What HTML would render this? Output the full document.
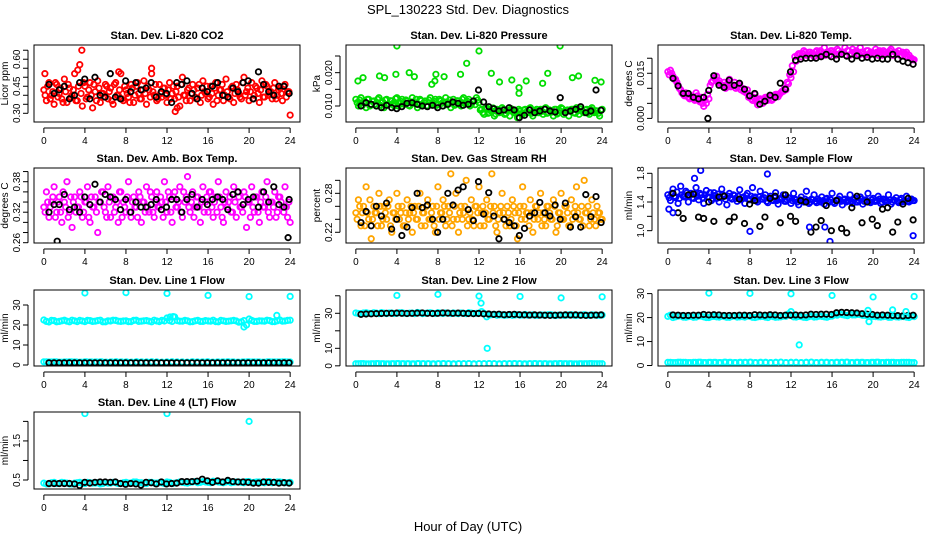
<!DOCTYPE html>
<html><head><meta charset="utf-8">
<style>
html,body{margin:0;padding:0;background:#fff;}
svg{display:block;font-family:"Liberation Sans",Arial,sans-serif;}
</style></head>
<body>
<svg id="chart" width="936" height="540" viewBox="0 0 936 540" xmlns="http://www.w3.org/2000/svg">
<rect x="0" y="0" width="936" height="540" fill="#fff"/>
<text x="468" y="14" font-size="13" text-anchor="middle">SPL_130223  Std. Dev. Diagnostics</text>
<text x="468" y="531" font-size="13" text-anchor="middle">Hour of Day (UTC)</text>
</svg>
<script>
// ---- data ----
const xTicks = [0,4,8,12,16,20,24];

const co2Red = [0.43,0.37,0.47,0.40,0.35,0.46,0.41,0.38,0.49,0.36,0.44,0.40,0.52,0.37,0.57,0.34,0.45,0.39,0.47,0.33,0.42,0.48,0.36,0.41,0.46,0.38,0.44,0.35,0.47,0.40,0.52,0.37,0.43,0.39,0.46,0.36,0.45,0.41,0.38,0.48,0.35,0.43,0.55,0.40,0.37,0.46,0.39,0.44,0.36,0.47,0.41,0.38,0.45,0.34,0.50,0.40,0.43,0.37,0.46,0.39,0.44,0.36,0.48,0.41,0.38,0.45,0.35,0.47,0.40,0.43,0.37,0.49,0.39,0.44,0.36,0.46,0.41,0.38,0.50,0.42,0.37,0.47,0.40,0.44,0.36,0.48,0.39,0.45,0.41,0.38,0.47,0.40,0.44,0.37,0.46,0.42,0.29];
const co2Red2 = [0.40,0.45,0.38,0.42,0.47,0.39,0.44,0.36,0.42,0.46,0.39,0.43,0.37,0.45,0.41,0.47,0.38,0.43,0.40,0.46,0.37,0.44,0.41,0.39,0.45,0.42,0.37,0.46,0.40,0.43,0.38,0.45,0.41,0.36,0.44,0.40,0.47,0.38,0.43,0.41,0.45,0.39,0.42,0.46,0.38,0.41,0.44,0.40,0.43,0.38,0.45,0.42,0.39,0.46,0.40,0.37,0.44,0.41,0.43,0.38,0.46,0.40,0.42,0.45,0.39,0.41,0.44,0.37,0.43,0.46,0.40,0.42,0.38,0.45,0.41,0.43,0.39,0.47,0.40,0.44,0.42,0.38,0.45,0.41,0.43,0.39,0.46,0.40,0.42,0.44,0.38,0.43,0.41,0.45,0.39,0.42];
const co2Black = [0.46,0.41,0.43,0.45,0.38,0.40,0.47,0.49,0.38,0.50,0.40,0.39,0.52,0.39,0.38,0.48,0.42,0.47,0.43,0.44,0.47,0.39,0.42,0.41,0.36,0.47,0.46,0.48,0.41,0.38,0.44,0.42,0.45,0.47,0.40,0.39,0.44,0.42,0.47,0.48,0.38,0.53,0.46,0.42,0.40,0.45,0.45,0.41];
const co2OutX = [3.7,3.3,7.3,10.5,13.0,12.8,0.1];
const co2OutY = [0.65,0.54,0.53,0.52,0.33,0.31,0.52];

const presGreen = [0.012,0.010,0.0125,0.011,0.0095,0.012,0.0105,0.0115,0.010,0.0125,0.011,0.0095,0.012,0.0105,0.0115,0.010,0.0125,0.011,0.012,0.0105,0.0115,0.010,0.0125,0.011,0.0095,0.012,0.0105,0.0115,0.010,0.0125,0.011,0.012,0.0105,0.0115,0.010,0.0125,0.011,0.0095,0.012,0.0105,0.0115,0.010,0.0125,0.011,0.012,0.0105,0.0115,0.0125,0.011,0.009,0.0075,0.0095,0.008,0.0085,0.007,0.009,0.008,0.0095,0.0075,0.0085,0.007,0.009,0.008,0.0065,0.0085,0.0075,0.009,0.008,0.0095,0.007,0.0085,0.008,0.009,0.0075,0.0095,0.008,0.0085,0.007,0.009,0.008,0.0095,0.0075,0.0085,0.007,0.009,0.008,0.0095,0.0075,0.0085,0.008,0.009,0.0075,0.0095,0.008,0.0085,0.007,0.009];
const presGreen2 = [0.0110,0.0118,0.0102,0.0112,0.0120,0.0100,0.0114,0.0106,0.0120,0.0102,0.0112,0.0118,0.0104,0.0116,0.0108,0.0122,0.0100,0.0114,0.0106,0.0118,0.0102,0.0112,0.0108,0.0120,0.0104,0.0116,0.0110,0.0100,0.0118,0.0106,0.0114,0.0102,0.0120,0.0108,0.0112,0.0104,0.0118,0.0110,0.0102,0.0116,0.0106,0.0120,0.0108,0.0114,0.0100,0.0112,0.0104,0.0118,0.0088,0.0080,0.0092,0.0078,0.0086,0.0094,0.0076,0.0088,0.0082,0.0090,0.0078,0.0086,0.0092,0.0080,0.0084,0.0090,0.0076,0.0088,0.0082,0.0092,0.0078,0.0086,0.0090,0.0080,0.0084,0.0092,0.0078,0.0088,0.0082,0.0090,0.0076,0.0086,0.0092,0.0080,0.0088,0.0084,0.0090,0.0078,0.0086,0.0092,0.0082,0.0088,0.0080,0.0090,0.0084,0.0086,0.0078,0.0088];
const presBlack = [0.010,0.011,0.0105,0.010,0.0095,0.0102,0.0095,0.0092,0.0098,0.0108,0.011,0.0105,0.0100,0.0098,0.0102,0.0095,0.010,0.0105,0.0112,0.0108,0.0102,0.0105,0.0115,0.0148,0.0112,0.0098,0.0092,0.0085,0.0088,0.0095,0.0088,0.0065,0.0072,0.0088,0.0080,0.0085,0.0090,0.0085,0.0082,0.0125,0.0080,0.0085,0.0090,0.0098,0.0080,0.0085,0.0148,0.0087];
const presOutX = [0.2,0.7,2.3,2.8,4.0,5.2,5.7,7.4,7.7,8.6,10.2,10.8,12.0,13.2,14.0,15.2,15.9,15.9,16.6,18.2,18.7,19.9,21.1,21.7,23.3,23.9,3.9,7.8];
const presOutY = [0.0175,0.0185,0.019,0.0185,0.028,0.020,0.0188,0.0165,0.0175,0.0188,0.0195,0.0228,0.0265,0.0198,0.0172,0.0178,0.0155,0.0138,0.0175,0.0168,0.0198,0.028,0.0185,0.019,0.0177,0.0172,0.0195,0.0195];

const tempMag = [0.0155,0.016,0.014,0.013,0.011,0.0095,0.008,0.0085,0.007,0.0075,0.0065,0.0085,0.006,0.007,0.004,0.005,0.0065,0.012,0.0135,0.014,0.0125,0.011,0.012,0.0105,0.013,0.011,0.012,0.0105,0.0115,0.010,0.009,0.0095,0.0075,0.006,0.008,0.0045,0.0065,0.005,0.007,0.006,0.0075,0.0065,0.008,0.0072,0.0085,0.009,0.0095,0.0115,0.0135,0.0155,0.019,0.0215,0.0205,0.0225,0.021,0.022,0.0215,0.0205,0.0225,0.022,0.021,0.0235,0.022,0.021,0.0225,0.0215,0.023,0.0215,0.022,0.0235,0.0225,0.021,0.023,0.022,0.0215,0.0235,0.022,0.021,0.0225,0.022,0.0215,0.023,0.021,0.022,0.0225,0.0215,0.022,0.023,0.021,0.022,0.0225,0.021,0.0215,0.022,0.021,0.020,0.0195];
const tempMag2 = [0.0145,0.0150,0.0130,0.0120,0.0100,0.0085,0.0075,0.0080,0.0065,0.0070,0.0060,0.0075,0.0055,0.0050,0.0060,0.0080,0.0110,0.0125,0.0130,0.0120,0.0115,0.0110,0.0100,0.0120,0.0105,0.0110,0.0100,0.0110,0.0095,0.0090,0.0085,0.0070,0.0065,0.0070,0.0055,0.0060,0.0060,0.0065,0.0070,0.0070,0.0060,0.0075,0.0080,0.0080,0.0090,0.0100,0.0120,0.0145,0.0175,0.0205,0.0210,0.0215,0.0215,0.0220,0.0210,0.0220,0.0215,0.0220,0.0210,0.0225,0.0215,0.0210,0.0220,0.0225,0.0220,0.0210,0.0225,0.0215,0.0220,0.0210,0.0225,0.0215,0.0220,0.0225,0.0210,0.0220,0.0215,0.0225,0.0210,0.0220,0.0215,0.0220,0.0225,0.0210,0.0220,0.0215,0.0225,0.0210,0.0220,0.0215,0.0210,0.0220,0.0215,0.0205,0.0200,0.0195];
const tempBlack = [0.0133,0.0108,0.0083,0.0083,0.007,0.0065,0.007,0.0093,0.0142,0.011,0.0103,0.0127,0.011,0.0117,0.0097,0.0075,0.0083,0.0047,0.0057,0.0077,0.007,0.0117,0.0097,0.0155,0.0193,0.0197,0.0200,0.0200,0.0200,0.0205,0.0213,0.0205,0.0197,0.0213,0.0207,0.0197,0.0208,0.0200,0.0203,0.0197,0.0200,0.0197,0.0197,0.0213,0.0197,0.0190,0.0185,0.0180];
const tempOutX = [3.9];
const tempOutY = [0.0];

const boxMag = [0.33,0.36,0.31,0.34,0.37,0.32,0.35,0.30,0.34,0.38,0.32,0.29,0.35,0.33,0.36,0.31,0.34,0.37,0.30,0.33,0.35,0.28,0.34,0.36,0.32,0.37,0.31,0.35,0.33,0.30,0.36,0.34,0.32,0.38,0.31,0.35,0.33,0.36,0.30,0.34,0.37,0.32,0.35,0.31,0.36,0.33,0.34,0.38,0.32,0.35,0.30,0.36,0.33,0.37,0.31,0.34,0.39,0.32,0.36,0.33,0.35,0.30,0.37,0.34,0.32,0.36,0.31,0.35,0.38,0.33,0.30,0.36,0.34,0.32,0.37,0.31,0.35,0.33,0.36,0.29,0.34,0.37,0.32,0.35,0.30,0.36,0.33,0.38,0.31,0.34,0.36,0.32,0.35,0.33,0.37,0.31,0.30];
const boxMag2 = [0.32,0.34,0.33,0.35,0.31,0.34,0.32,0.36,0.33,0.31,0.35,0.34,0.32,0.33,0.35,0.32,0.34,0.31,0.35,0.33,0.32,0.34,0.36,0.33,0.31,0.34,0.35,0.32,0.34,0.36,0.31,0.33,0.35,0.32,0.34,0.33,0.31,0.35,0.34,0.32,0.33,0.36,0.32,0.34,0.33,0.35,0.31,0.34,0.36,0.32,0.35,0.33,0.34,0.32,0.36,0.35,0.33,0.34,0.31,0.35,0.33,0.34,0.32,0.35,0.36,0.33,0.34,0.32,0.35,0.31,0.34,0.33,0.35,0.32,0.34,0.36,0.33,0.32,0.35,0.34,0.31,0.33,0.35,0.32,0.34,0.33,0.35,0.32,0.34,0.33,0.31,0.35,0.34,0.32,0.33,0.34];
const boxBlack = [0.32,0.335,0.335,0.355,0.325,0.33,0.32,0.35,0.335,0.375,0.34,0.355,0.35,0.345,0.325,0.345,0.32,0.34,0.33,0.33,0.335,0.345,0.325,0.33,0.345,0.345,0.32,0.345,0.355,0.33,0.345,0.335,0.345,0.35,0.345,0.325,0.355,0.36,0.335,0.345,0.35,0.33,0.36,0.34,0.37,0.335,0.33,0.345];
const boxOutX = [23.8,1.3];
const boxOutY = [0.27,0.263];

const rhOrange = [0.25,0.27,0.23,0.26,0.29,0.24,0.21,0.26,0.25,0.28,0.23,0.26,0.24,0.27,0.22,0.25,0.28,0.24,0.26,0.23,0.27,0.25,0.22,0.26,0.24,0.28,0.25,0.23,0.27,0.24,0.26,0.22,0.29,0.25,0.27,0.23,0.26,0.31,0.24,0.28,0.22,0.26,0.25,0.30,0.24,0.27,0.23,0.26,0.29,0.25,0.23,0.27,0.24,0.31,0.26,0.22,0.25,0.28,0.24,0.26,0.23,0.27,0.25,0.21,0.26,0.29,0.24,0.25,0.27,0.22,0.26,0.24,0.28,0.25,0.23,0.26,0.24,0.27,0.22,0.25,0.28,0.24,0.26,0.23,0.27,0.25,0.29,0.24,0.26,0.30,0.25,0.23,0.27,0.24,0.26,0.25,0.24];
const rhOrange2 = [0.24,0.26,0.25,0.23,0.25,0.27,0.24,0.25,0.23,0.26,0.24,0.25,0.26,0.23,0.25,0.24,0.26,0.25,0.23,0.25,0.24,0.26,0.25,0.24,0.26,0.23,0.25,0.26,0.24,0.25,0.23,0.26,0.24,0.25,0.26,0.24,0.25,0.23,0.26,0.24,0.25,0.24,0.26,0.23,0.25,0.24,0.26,0.25,0.23,0.26,0.25,0.24,0.26,0.25,0.23,0.24,0.26,0.25,0.23,0.25,0.24,0.26,0.23,0.25,0.24,0.26,0.25,0.23,0.25,0.24,0.26,0.25,0.23,0.24,0.26,0.25,0.24,0.26,0.23,0.25,0.24,0.26,0.25,0.23,0.24,0.26,0.25,0.24,0.23,0.25,0.26,0.24,0.25,0.23,0.25,0.24];
const rhBlack = [0.235,0.252,0.23,0.26,0.245,0.265,0.225,0.24,0.215,0.228,0.258,0.28,0.258,0.262,0.24,0.22,0.24,0.28,0.262,0.285,0.29,0.255,0.238,0.298,0.248,0.281,0.245,0.21,0.24,0.235,0.23,0.215,0.226,0.245,0.25,0.266,0.25,0.245,0.262,0.24,0.265,0.228,0.244,0.228,0.278,0.244,0.275,0.235];

const flowBlue = [1.50,1.42,1.58,1.46,1.38,1.62,1.48,1.55,1.40,1.52,1.45,1.60,1.43,1.50,1.38,1.56,1.47,1.42,1.53,1.45,1.40,1.58,1.48,1.36,1.52,1.44,1.49,1.41,1.57,1.46,1.38,1.52,1.43,1.60,1.47,1.40,1.55,1.44,1.50,1.39,1.48,1.42,1.53,1.37,1.45,1.50,1.41,1.46,1.38,1.52,1.43,1.36,1.47,1.40,1.55,1.38,1.44,1.50,1.39,1.42,1.47,1.37,1.45,1.40,1.52,1.38,1.43,1.48,1.36,1.44,1.41,1.50,1.38,1.45,1.40,1.47,1.37,1.43,1.52,1.39,1.45,1.41,1.48,1.38,1.44,1.40,1.50,1.37,1.43,1.46,1.39,1.45,1.41,1.48,1.40,1.44,1.42];
const flowBlue2 = [1.46,1.52,1.48,1.54,1.45,1.50,1.47,1.53,1.49,1.46,1.51,1.48,1.52,1.46,1.50,1.47,1.53,1.45,1.49,1.51,1.46,1.50,1.44,1.48,1.46,1.50,1.45,1.48,1.43,1.47,1.49,1.44,1.48,1.46,1.42,1.47,1.44,1.46,1.41,1.45,1.43,1.47,1.42,1.44,1.46,1.41,1.43,1.45,1.42,1.44,1.40,1.43,1.41,1.44,1.42,1.40,1.43,1.41,1.44,1.40,1.42,1.44,1.41,1.43,1.40,1.42,1.44,1.41,1.43,1.40,1.42,1.41,1.43,1.40,1.42,1.44,1.41,1.42,1.40,1.43,1.41,1.42,1.44,1.40,1.42,1.41,1.43,1.40,1.42,1.41,1.43,1.40,1.42,1.41,1.43,1.42];
const flowBlack = [1.52,1.25,1.17,1.50,1.51,1.19,1.17,1.40,1.13,1.47,1.48,1.13,1.19,1.44,1.10,1.37,1.42,1.06,1.19,1.45,1.48,1.11,1.50,1.20,1.13,1.42,1.40,0.98,1.05,1.14,1.35,1.00,1.42,1.03,0.97,1.32,1.48,1.11,1.40,1.16,1.07,1.30,1.32,0.98,1.12,1.37,1.45,1.15];
const flowOutX = [3.2,2.6,9.7,0.1,0.5,8.0,15.8,15.3,23.9,13.8];
const flowOutY = [1.84,1.73,1.79,1.30,1.25,0.99,0.85,1.05,0.93,1.05];

const line1High = [22.5,21.5,22.2,21.8,22.4,21.6,22.1,22.3,21.7,22.2,21.9,22.4,21.6,22.0,22.3,21.8,22.1,21.7,22.4,21.9,22.2,21.6,22.0,22.3,23.5,21.8,22.2,21.9,22.1,21.7,22.3,21.8,22.0,22.4,21.6,22.1,21.9,22.3,21.4,22.2,23.0,21.8,22.1,21.9,22.2,21.7,22.5,22.0,22.4];
const line1High2 = [21.8,22.3,21.6,22.1,21.9,22.4,21.7,22.0,22.3,21.8,22.2,21.6,22.1,22.4,21.9,22.0,21.7,22.3,21.8,22.1,21.9,22.4,21.7,22.0,22.2,24.0,21.9,22.3,21.6,22.1,21.8,22.2,21.9,21.7,22.3,21.8,22.1,22.0,21.6,20.0,22.3,21.8,22.0,22.4,21.7,22.1,21.9,22.3];
const line1Low = [1.6,1.5,1.6,1.4,1.5,1.6,1.5,1.4,1.6,1.5,1.5,1.6,1.4,1.5,1.6,1.5,1.5,1.4,1.6,1.5,1.5,1.6,1.5,1.4,1.5,1.6,1.5,1.5,1.4,1.6,1.5,1.5,1.6,1.4,1.5,1.5,1.6,1.5,1.4,1.5,1.6,1.5,1.5,1.4,1.6,1.5,1.5,1.6,1.5];
const line1Black = [1.1,1.1,1.1,1.1,1.1,1.1,1.1,1.1,1.1,1.1,1.1,1.1,1.1,1.1,1.1,1.1,1.1,1.1,1.1,1.1,1.1,1.1,1.1,1.1,1.1,1.1,1.1,1.1,1.1,1.1,1.1,1.1,1.1,1.1,1.1,1.1,1.1,1.1,1.1,1.1,1.1,1.1,1.1,1.1,1.1,1.1,1.1,1.1];
const line1OutX = [4,8,12,16,20,24,12.3,12.6,19.5,22.7];
const line1OutY = [36,36.2,35.8,34.8,34.2,34.3,24,24.2,19,24.8];

const line2High = [30.2,29.8,30.3,29.9,30.1,30.4,29.8,30.2,30.0,30.3,29.9,30.1,30.5,29.8,30.2,30.0,30.3,29.9,30.1,30.2,29.8,30.0,30.3,29.9,30.1,30.0,29.0,29.4,29.1,28.8,29.2,29.0,28.9,29.3,29.0,28.8,29.1,28.9,29.2,28.7,29.0,28.9,29.2,28.8,29.0,28.9,29.1,28.8,29.0];
const line2High2 = [29.9,30.2,30.0,30.3,29.8,30.1,30.2,29.9,30.3,30.0,30.1,29.8,30.2,30.0,30.3,29.9,30.1,30.2,29.9,30.0,30.2,29.8,30.1,30.0,31.0,28.0,29.2,28.9,29.1,29.0,28.8,29.2,29.0,28.9,29.1,28.8,29.0,29.2,28.9,29.0,28.8,29.1,28.9,29.0,29.2,28.8,29.0,28.9];
const line2Low = [1.2,1.3,1.1,1.2,1.3,1.2,1.1,1.2,1.3,1.2,1.2,1.1,1.3,1.2,1.2,1.1,1.2,1.3,1.2,1.1,1.2,1.2,1.3,1.1,1.2,1.2,1.3,1.2,1.1,1.2,1.2,1.3,1.2,1.1,1.2,1.3,1.2,1.2,1.1,1.2,1.3,1.2,1.2,1.1,1.2,1.2,1.3,1.2,1.2];
const line2Black = [29.4,29.6,29.7,29.8,29.9,30.0,30.0,30.1,30.0,29.9,30.0,30.1,30.2,30.0,29.9,30.0,30.2,30.1,30.0,30.1,30.0,29.9,29.8,29.9,29.7,29.6,29.4,29.5,29.2,29.3,29.4,29.2,29.1,29.0,29.1,29.0,28.9,28.8,28.9,29.0,29.1,29.0,29.1,28.9,28.8,28.9,29.0,29.1];
const line2OutX = [4,8,12,16,20,24,12.2,12.8];
const line2OutY = [40.2,40.8,39.8,39.6,38.8,39.4,35.8,10.0];

const line3High = [20.5,20.0,20.6,20.2,20.4,20.1,20.6,20.3,20.0,20.5,20.2,20.4,20.1,20.6,20.3,20.2,20.5,20.0,20.4,20.2,20.6,20.1,20.3,20.5,22.5,20.2,20.4,20.0,20.6,20.3,20.5,20.1,20.6,21.0,21.2,20.8,21.1,21.3,20.9,20.8,20.5,20.3,20.4,20.1,20.5,20.2,20.4,20.0,20.4];
const line3High2 = [21.0,20.3,20.7,20.1,20.5,20.2,20.6,20.0,20.4,20.3,20.6,20.1,20.5,20.2,20.4,20.6,20.1,20.3,20.5,20.0,20.4,20.2,20.6,21.5,20.3,20.5,20.1,20.4,20.2,20.6,20.3,20.5,21.2,21.5,21.0,21.4,21.1,21.2,20.9,20.6,20.4,20.2,20.5,20.1,20.3,20.4,20.2,20.5];
const line3Low = [1.3,1.2,1.4,1.3,1.2,1.3,1.4,1.2,1.3,1.3,1.2,1.4,1.3,1.2,1.3,1.3,1.4,1.2,1.3,1.3,1.2,1.3,1.4,1.2,1.3,1.3,1.2,1.3,1.4,1.2,1.3,1.3,1.2,1.3,1.3,1.4,1.2,1.3,1.3,1.2,1.3,1.4,1.2,1.3,1.3,1.2,1.3,1.3,1.2];
const line3Black = [21.1,21.0,20.9,20.9,21.0,21.0,21.3,21.1,21.2,21.1,20.9,20.9,20.9,21.0,21.0,20.9,21.2,21.1,21.0,21.2,21.1,20.9,21.0,21.0,21.1,21.0,21.1,21.4,21.3,21.4,21.4,21.3,22.0,22.2,22.1,22.0,21.9,21.6,21.4,21.3,21.0,21.1,21.0,20.9,20.8,20.7,20.9,21.0];
const line3OutX = [4,8,12,16,20,24,12.8,19.6,19.5,21.9,23.2];
const line3OutY = [30.2,30.1,29.9,29.2,28.6,28.8,8.6,18.3,23.0,23.2,22.5];

const line4Cyan = [0.42,0.40,0.44,0.41,0.43,0.40,0.42,0.44,0.41,0.43,0.42,0.40,0.44,0.42,0.43,0.41,0.44,0.42,0.45,0.43,0.41,0.44,0.42,0.43,0.45,0.41,0.43,0.44,0.42,0.45,0.43,0.46,0.44,0.47,0.45,0.43,0.46,0.44,0.45,0.43,0.46,0.44,0.45,0.43,0.46,0.44,0.45,0.43,0.44];
const line4Cyan2 = [0.40,0.43,0.41,0.44,0.42,0.40,0.43,0.41,0.44,0.42,0.43,0.41,0.42,0.44,0.41,0.43,0.42,0.45,0.43,0.41,0.44,0.42,0.43,0.41,0.44,0.42,0.45,0.43,0.44,0.46,0.44,0.45,0.43,0.46,0.44,0.45,0.43,0.45,0.44,0.46,0.43,0.45,0.44,0.46,0.43,0.45,0.44,0.43];
const line4Black = [0.41,0.41,0.41,0.41,0.41,0.40,0.36,0.44,0.42,0.44,0.45,0.45,0.44,0.45,0.41,0.39,0.41,0.40,0.37,0.44,0.43,0.40,0.45,0.40,0.41,0.42,0.46,0.46,0.46,0.47,0.52,0.48,0.44,0.48,0.45,0.49,0.46,0.45,0.45,0.44,0.42,0.42,0.45,0.44,0.44,0.42,0.43,0.42];
const line4OutX = [4,12,20];
const line4OutY = [2.2,2.2,2.0];

// ---- layout ----
const COLS = [[34,300],[346,612],[658,924]];
const ROWS = [[45,122],[168,243],[290,366],[412,489]];
const RED='#ff0000', GREEN='#00dd00', MAG='#ff00ff', ORANGE='#ffa500', BLUE='#0000ff', CYAN='#00ffff', BLACK='#000000';

const panels = [
 {name:'co2',title:'Stan. Dev. Li-820 CO2',ylab:'Licor ppm',r:0,c:0,ymin:0.2517,ymax:0.679,ticks:[0.30,0.35,0.40,0.45,0.50,0.55,0.60,0.65],labels:[0.30,0.45,0.60],dec:2,
  series:[{v:co2Red,col:RED},{v:co2Red2,col:RED,h:1},{v:co2Black,col:BLACK,b:1}],out:[{x:co2OutX,y:co2OutY,col:RED}]},
 {name:'pressure',title:'Stan. Dev. Li-820 Pressure',ylab:'kPa',r:0,c:1,ymin:0.0052,ymax:0.0283,ticks:[0.010,0.015,0.020,0.025],labels:[0.010,0.020],dec:3,
  series:[{v:presGreen,col:GREEN},{v:presGreen2,col:GREEN,h:1},{v:presBlack,col:BLACK,b:1}],out:[{x:presOutX,y:presOutY,col:GREEN}]},
 {name:'temp',title:'Stan. Dev. Li-820 Temp.',ylab:'degrees C',r:0,c:2,ymin:-0.0012,ymax:0.0244,ticks:[0,0.005,0.010,0.015,0.020],labels:[0,0.015],dec:3,
  series:[{v:tempMag,col:MAG},{v:tempMag2,col:MAG,h:1},{v:tempBlack,col:BLACK,b:1}],out:[{x:tempOutX,y:tempOutY,col:BLACK}]},
 {name:'box-temp',title:'Stan. Dev. Amb. Box Temp.',ylab:'degrees C',r:1,c:0,ymin:0.2594,ymax:0.407,ticks:[0.26,0.28,0.30,0.32,0.34,0.36,0.38,0.40],labels:[0.26,0.32,0.38],dec:2,
  series:[{v:boxMag,col:MAG},{v:boxMag2,col:MAG,h:1},{v:boxBlack,col:BLACK,b:1}],out:[{x:boxOutX,y:boxOutY,col:BLACK}]},
 {name:'rh',title:'Stan. Dev. Gas Stream RH',ylab:'percent',r:1,c:1,ymin:0.2035,ymax:0.319,ticks:[0.22,0.24,0.26,0.28,0.30],labels:[0.22,0.28],dec:2,
  series:[{v:rhOrange,col:ORANGE},{v:rhOrange2,col:ORANGE,h:1},{v:rhBlack,col:BLACK,b:1}],out:[]},
 {name:'sample-flow',title:'Stan. Dev. Sample Flow',ylab:'ml/min',r:1,c:2,ymin:0.828,ymax:1.874,ticks:[1.0,1.2,1.4,1.6,1.8],labels:[1.0,1.4,1.8],dec:1,
  series:[{v:flowBlue,col:BLUE},{v:flowBlue2,col:BLUE,h:1},{v:flowBlack,col:BLACK,b:1}],out:[{x:flowOutX,y:flowOutY,col:BLUE}]},
 {name:'line1-flow',title:'Stan. Dev. Line 1 Flow',ylab:'ml/min',r:2,c:0,ymin:-0.5,ymax:37.5,ticks:[0,10,20,30],labels:[0,10,20,30],dec:0,
  series:[{v:line1High,col:CYAN},{v:line1High2,col:CYAN,h:1},{v:line1Low,col:CYAN},{v:line1Low,col:CYAN,h:1},{v:line1Black,col:BLACK,b:1}],out:[{x:line1OutX,y:line1OutY,col:CYAN}]},
 {name:'line2-flow',title:'Stan. Dev. Line 2 Flow',ylab:'ml/min',r:2,c:1,ymin:-0.1,ymax:43.3,ticks:[0,10,20,30,40],labels:[0,10,30],dec:0,
  series:[{v:line2High,col:CYAN},{v:line2High2,col:CYAN,h:1},{v:line2Low,col:CYAN},{v:line2Low,col:CYAN,h:1},{v:line2Black,col:BLACK,b:1}],out:[{x:line2OutX,y:line2OutY,col:CYAN}]},
 {name:'line3-flow',title:'Stan. Dev. Line 3 Flow',ylab:'ml/min',r:2,c:2,ymin:-0.2,ymax:31.5,ticks:[0,10,20,30],labels:[0,10,20,30],dec:0,
  series:[{v:line3High,col:CYAN},{v:line3High2,col:CYAN,h:1},{v:line3Low,col:CYAN},{v:line3Low,col:CYAN,h:1},{v:line3Black,col:BLACK,b:1}],out:[{x:line3OutX,y:line3OutY,col:CYAN}]},
 {name:'line4-flow',title:'Stan. Dev. Line 4 (LT) Flow',ylab:'ml/min',r:3,c:0,ymin:0.27,ymax:2.24,ticks:[0.5,1.0,1.5,2.0],labels:[0.5,1.5],dec:1,
  series:[{v:line4Cyan,col:CYAN},{v:line4Cyan2,col:CYAN,h:1},{v:line4Black,col:BLACK,b:1}],out:[{x:line4OutX,y:line4OutY,col:CYAN}]}
];

const NS='http://www.w3.org/2000/svg';
const svg=document.getElementById('chart');
function mk(tag,attrs,parent){const e=document.createElementNS(NS,tag);for(const k in attrs)e.setAttribute(k,attrs[k]);(parent||svg).appendChild(e);return e;}

panels.forEach(p=>{
  const [L,R]=COLS[p.c], [T,B]=ROWS[p.r];
  const xs=v=>L+(v+0.96)/(25.92)*(R-L);
  const ys=v=>B-(v-p.ymin)/(p.ymax-p.ymin)*(B-T);
  const g=mk('g',{});
  
  
  const t=mk('text',{x:(L+R)/2,y:T-6,'font-size':11,'font-weight':'bold','text-anchor':'middle'},g);
  t.textContent=p.title;
  
  
  const xa=mk('g',{},g);
  
  
  mk('line',{x1:xs(0),x2:xs(24),y1:B+6,y2:B+6,stroke:'#000','stroke-width':1},xa);
  xTicks.forEach(v=>{
    mk('line',{x1:xs(v),x2:xs(v),y1:B+6,y2:B+11,stroke:'#000','stroke-width':1},xa);
    const tl=mk('text',{x:xs(v),y:B+22,'font-size':10,'text-anchor':'middle'},xa);
    tl.textContent=v;
  });
  const ya=mk('g',{},g);
  
  
  const tk=p.ticks;
  mk('line',{x1:L-6,x2:L-6,y1:ys(tk[0]),y2:ys(tk[tk.length-1]),stroke:'#000','stroke-width':1},ya);
  tk.forEach(v=>mk('line',{x1:L-11,x2:L-6,y1:ys(v),y2:ys(v),stroke:'#000','stroke-width':1},ya));
  p.labels.forEach(v=>{
    const yy=ys(v);
    const tl=mk('text',{x:L-14,y:yy,'font-size':10,'text-anchor':'middle',transform:`rotate(-90 ${L-14} ${yy})`},ya);
    tl.textContent=v.toFixed(p.dec);
  });
  const yt=mk('text',{x:L-26,y:(T+B)/2,'font-size':10,'text-anchor':'middle',transform:`rotate(-90 ${L-26} ${(T+B)/2})`},g);
  yt.textContent=p.ylab;
  
  
  const clip='clip-'+p.name;
  const cp=mk('clipPath',{id:clip},g); mk('rect',{x:L,y:T,width:R-L,height:B-T},cp);
  const pts=mk('g',{'clip-path':`url(#${clip})`,fill:'none','stroke-width':1.8},g);
  
  
  p.series.forEach(s=>{
    const n=s.v.length;
    s.v.forEach((v,i)=>{
      let tx;
      if(s.b) tx=0.5+i*(23.4/(n-1));
      else if(s.h) tx=(i+0.5)*24/n;
      else tx=i*24/(n-1);
      const c=mk('circle',{cx:xs(tx),cy:ys(v),r:2.7,stroke:s.col},pts);
      
      
    });
  });
  p.out.forEach(o=>{
    o.x.forEach((xv,i)=>{
      const c=mk('circle',{cx:xs(xv),cy:ys(o.y[i]),r:2.7,stroke:o.col},pts);
      
      
    });
  });
  const box=mk('rect',{x:L,y:T,width:R-L,height:B-T,fill:'none',stroke:'#000','stroke-width':1},g);
  
  
});
</script>
</body></html>
